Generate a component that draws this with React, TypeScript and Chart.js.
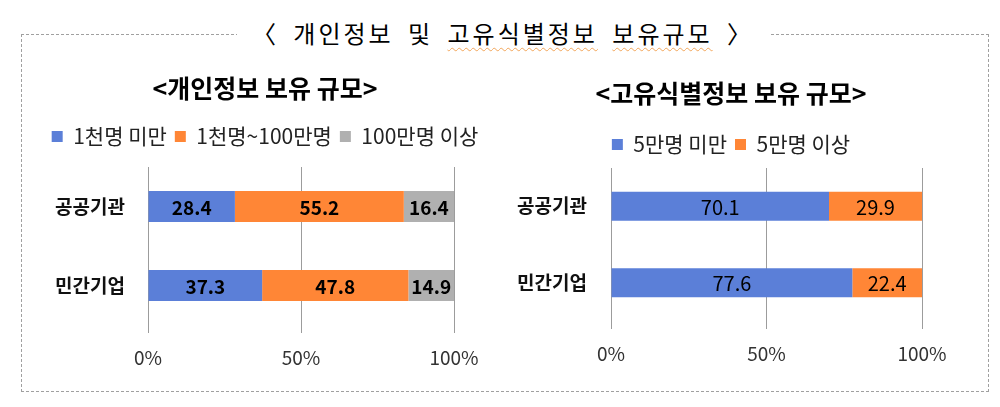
import React, { useEffect, useRef } from 'react';
import { Chart, registerables } from 'chart.js';

Chart.register(...registerables);

// ---- data ----
const categories = ['공공기관', '민간기업'];
const personalSeriesNames = ['1천명 미만', '1천명~100만명', '100만명 이상'];
const personalUnder1k = [28.4, 37.3];
const personal1kTo1m = [55.2, 47.8];
const personalOver1m = [16.4, 14.9];
const uniqueSeriesNames = ['5만명 미만', '5만명 이상'];
const uniqueUnder50k = [70.1, 77.6];
const uniqueOver50k = [29.9, 22.4];
const mainTitle = '〈 개인정보 및 고유식별정보 보유규모 〉';
const leftTitle = '<개인정보 보유 규모>';
const rightTitle = '<고유식별정보 보유 규모>';
const xTickStep = 50;

const BLUE = '#5B7FD8';
const ORANGE = '#FF8636';
const GRAY = '#B0B0B0';
const GRID = '#9C9C9C';
const FONT = '"Noto Sans CJK KR", "Noto Sans", sans-serif';

const valueLabels = {
  id: 'valueLabels',
  afterDatasetsDraw(chart: any, _args: any, opts: any) {
    const ctx = chart.ctx;
    ctx.save();
    ctx.font = `${opts.weight} ${opts.size}px ${FONT}`;
    ctx.fillStyle = '#000';
    ctx.textAlign = 'center';
    ctx.textBaseline = 'middle';
    chart.data.datasets.forEach((ds: any, i: number) => {
      const meta = chart.getDatasetMeta(i);
      meta.data.forEach((bar: any, j: number) => {
        const v = ds.data[j] as number;
        ctx.fillText(v.toFixed(1), (bar.x + bar.base) / 2, bar.y + 1);
      });
    });
    ctx.restore();
  },
};

const legendGap = {
  id: 'legendGap',
  beforeLayout(chart: any, _args: any, opts: any) {
    const lg = chart.legend;
    if (lg && !lg._gapPatched) {
      const orig = lg.fit.bind(lg);
      const extra = opts.extra || 0;
      lg.fit = function () {
        orig();
        this.height += extra;
      };
      lg._gapPatched = true;
    }
  },
};

type Cfg = {
  title: string;
  datasets: any[];
  padLeft: number;
  padRight: number;
  titleTop: number;
  titleBottom: number;
  legendExtra: number;
  yWidth: number;
  y2Width: number;
  yLabelPad: number;
  xHeight: number;
  xLabelPad: number;
  barPct: number;
  labelWeight: string;
  labelSize: number;
};

function makeConfig(c: Cfg): any {
  return {
    type: 'bar',
    data: {
      labels: categories,
      datasets: c.datasets.map((d) => ({
        ...d,
        borderWidth: 0,
        barPercentage: c.barPct,
        categoryPercentage: 1,
      })),
    },
    options: {
      indexAxis: 'y',
      animation: false,
      responsive: false,
      layout: { padding: { left: c.padLeft, right: c.padRight, top: 0, bottom: 0 } },
      scales: {
        x: {
          stacked: true,
          min: 0,
          max: 100,
          ticks: {
            stepSize: xTickStep,
            callback: (v: any) => v + '%',
            font: { family: FONT, size: 19 },
            color: '#333',
            padding: c.xLabelPad,
            maxRotation: 0,
          },
          grid: { color: GRID, tickLength: 8, drawTicks: true, tickColor: GRID },
          border: { display: false },
          afterFit: (s: any) => {
            s.height = c.xHeight;
          },
        },
        y: {
          stacked: true,
          ticks: {
            font: { family: FONT, size: 19, weight: 'bold' },
            color: '#111',
            padding: c.yLabelPad,
          },
          grid: { display: false, drawTicks: false },
          border: { display: true, color: GRID },
          afterFit: (s: any) => {
            s.width = c.yWidth;
          },
        },
        y2: {
          type: 'category',
          axis: 'y',
          position: 'right',
          display: true,
          ticks: { display: false },
          grid: { display: false, drawTicks: false },
          border: { display: false },
          afterFit: (s: any) => {
            s.width = c.y2Width;
          },
        },
      },
      plugins: {
        title: {
          display: true,
          text: c.title,
          font: { family: FONT, size: 25, weight: 'bold' },
          color: '#000',
          padding: { top: c.titleTop, bottom: c.titleBottom },
        },
        legend: {
          display: true,
          position: 'top',
          labels: {
            font: { family: FONT, size: 21 },
            color: '#222',
            boxWidth: 11,
            boxHeight: 11,
            padding: 8,
          },
        },
        tooltip: { enabled: false },
        valueLabels: { weight: c.labelWeight, size: c.labelSize },
        legendGap: { extra: c.legendExtra },
      },
    },
    plugins: [valueLabels, legendGap],
  };
}

function BarChart({ cfg, left, top }: { cfg: Cfg; left: number; top: number }) {
  const ref = useRef<HTMLCanvasElement | null>(null);
  useEffect(() => {
    if (!ref.current) return;
    const chart = new Chart(ref.current, makeConfig(cfg));
    return () => chart.destroy();
  }, []);
  return (
    <canvas
      ref={ref}
      width={500}
      height={320}
      style={{ position: 'absolute', left, top, width: 500, height: 320 }}
    />
  );
}

const leftCfg: Cfg = {
  title: leftTitle,
  datasets: [
    { label: personalSeriesNames[0], data: personalUnder1k, backgroundColor: BLUE },
    { label: personalSeriesNames[1], data: personal1kTo1m, backgroundColor: ORANGE },
    { label: personalSeriesNames[2], data: personalOver1m, backgroundColor: GRAY },
  ],
  padLeft: 30,
  padRight: 0,
  titleTop: 13,
  titleBottom: 15,
  legendExtra: 10,
  yWidth: 118,
  y2Width: 46,
  yLabelPad: 23,
  xHeight: 55,
  xLabelPad: 13,
  barPct: 0.39,
  labelWeight: 'bold',
  labelSize: 19,
};

const rightCfg: Cfg = {
  title: rightTitle,
  datasets: [
    { label: uniqueSeriesNames[0], data: uniqueUnder50k, backgroundColor: BLUE },
    { label: uniqueSeriesNames[1], data: uniqueOver50k, backgroundColor: ORANGE },
  ],
  padLeft: 0,
  padRight: 38,
  titleTop: 18,
  titleBottom: 18,
  legendExtra: 3,
  yWidth: 111,
  y2Width: 40,
  yLabelPad: 24,
  xHeight: 59,
  xLabelPad: 13,
  barPct: 0.38,
  labelWeight: 'normal',
  labelSize: 20,
};

export default function App() {
  const titleParts = ['〈 개인정보 및 ', '고유식별정보', ' ', '보유규모', ' 〉'];
  const squiggle: React.CSSProperties = {
    textDecorationLine: 'underline',
    textDecorationStyle: 'wavy',
    textDecorationColor: '#F2A65A',
    textDecorationThickness: '1px',
    textUnderlineOffset: '4px',
  };
  return (
    <div
      style={{
        position: 'absolute',
        left: 0,
        top: 0,
        width: 1000,
        height: 407,
        background: '#fff',
        overflow: 'hidden',
        fontFamily: FONT,
      }}
    >
      <div
        style={{
          position: 'absolute',
          left: 21,
          top: 34,
          width: 966,
          height: 356,
          border: '1px dashed #A0A0A0',
        }}
      />
      <div
        style={{
          position: 'absolute',
          left: 237,
          top: 16,
          width: 532,
          height: 34,
          lineHeight: '34px',
          background: '#fff',
          textAlign: 'center',
          fontSize: 24,
          color: '#000',
          letterSpacing: 3,
          wordSpacing: 6,
          whiteSpace: 'pre',
        }}
        aria-label={mainTitle}
      >
        <span>{titleParts[0]}</span>
        <span style={squiggle}>{titleParts[1]}</span>
        <span>{titleParts[2]}</span>
        <span style={squiggle}>{titleParts[3]}</span>
        <span>{titleParts[4]}</span>
      </div>
      <BarChart cfg={leftCfg} left={0} top={60} />
      <BarChart cfg={rightCfg} left={500} top={60} />
    </div>
  );
}
